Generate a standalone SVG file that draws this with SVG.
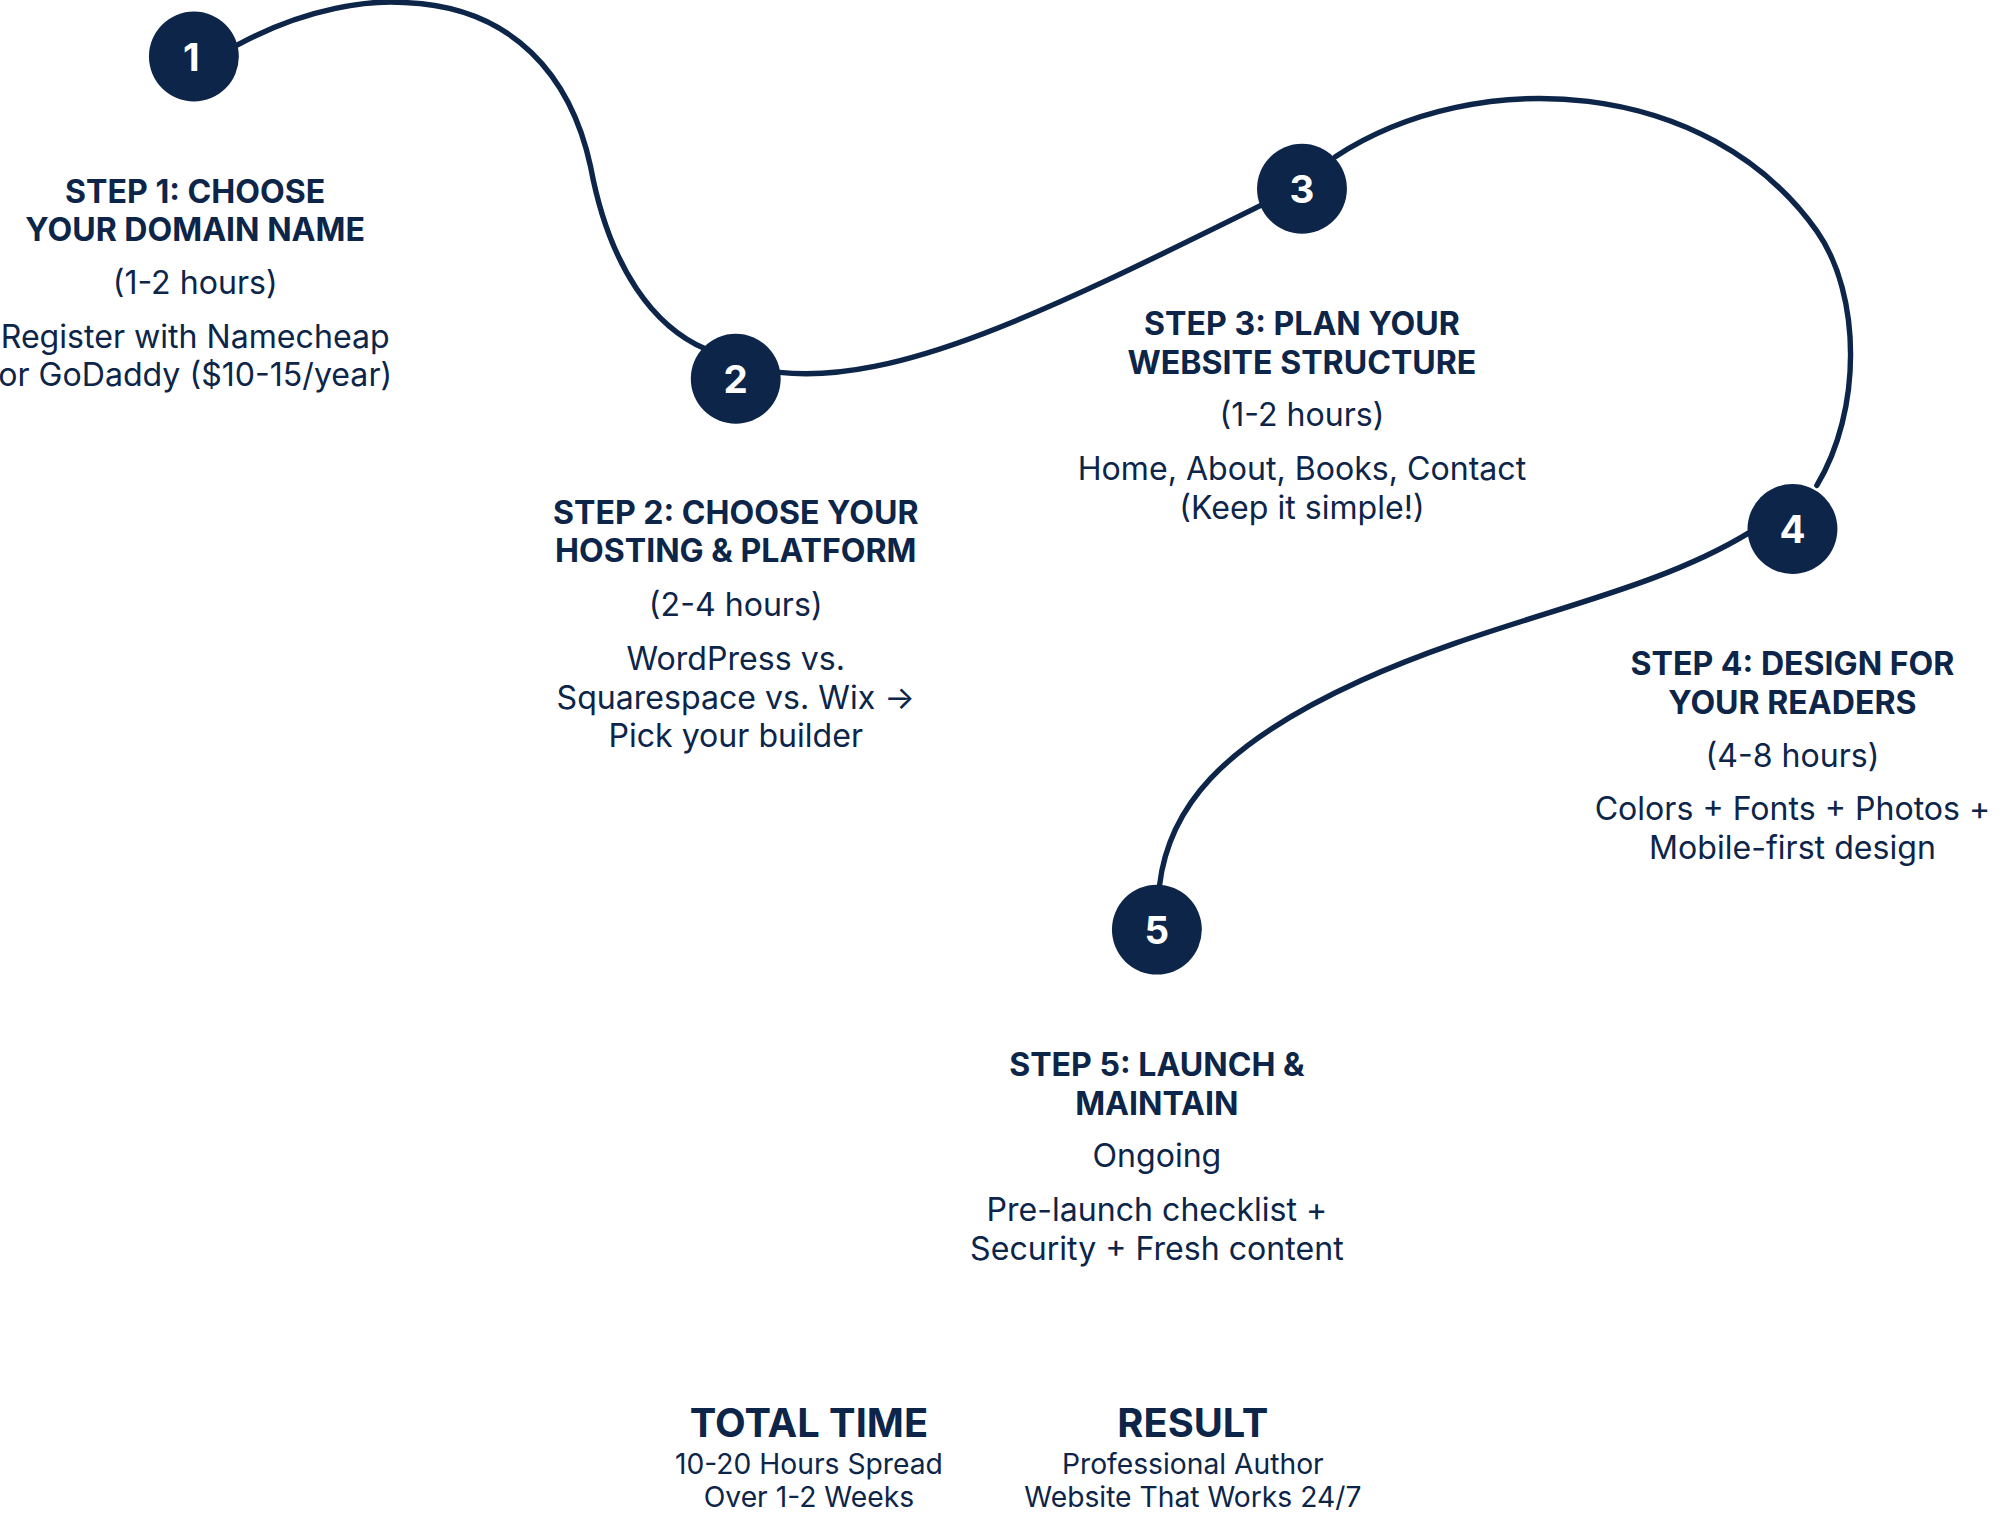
<svg xmlns="http://www.w3.org/2000/svg" width="2015" height="1518" viewBox="0 0 2015 1518">
<style>
text{font-family:Inter,"Noto Sans","Liberation Sans",sans-serif;fill:#0c2549;text-anchor:middle}
.h{font-weight:700;font-size:25px}
.b{font-size:25px}
.n{font-weight:700;font-size:30px;fill:#fff}
.c{fill:#0c2549}
.t{font-weight:700;font-size:31px}
.s{font-size:22px}
.p{fill:none;stroke:#0c2549;stroke-width:4.2;stroke-linecap:round}
</style>
<rect width="2015" height="1518" fill="#fff"/>
<g transform="scale(1.284)">
<g id="connectors">
<path class="p" d="M185,35 C240,5 290,0 315,2 C400,5 445,60 460,130 C475,210 510,255 550,272"/>
<path class="p" d="M607,290 C700,300 820,240 982,160"/>
<path class="p" d="M1040,122 C1150,50 1330,60 1415,180 C1450,230 1450,320 1415,378"/>
<path class="p" d="M1362,415 C1280,465 1170,480 1060,530 C950,580 910,630 903,690"/>
</g>
<g id="step1"><circle class="c" cx="151" cy="44" r="35"/><text class="n" x="149" y="55">1</text>
<text class="h" x="152" y="158">STEP 1: CHOOSE</text><text class="h" x="152" y="188">YOUR DOMAIN NAME</text>
<text class="b" x="152" y="229">(1-2 hours)</text><text class="b" x="152" y="271">Register with Namecheap</text><text class="b" x="152" y="301">or GoDaddy ($10-15/year)</text></g>
<g id="step2"><circle class="c" cx="573" cy="295" r="35"/><text class="n" x="573" y="306">2</text>
<text class="h" x="573" y="408">STEP 2: CHOOSE YOUR</text><text class="h" x="573" y="438">HOSTING &amp; PLATFORM</text>
<text class="b" x="573" y="480">(2-4 hours)</text><text class="b" x="573" y="522">WordPress vs.</text><text class="b" x="573" y="552">Squarespace vs. Wix →</text><text class="b" x="573" y="582">Pick your builder</text></g>
<g id="step3"><circle class="c" cx="1014" cy="147" r="35"/><text class="n" x="1014" y="158">3</text>
<text class="h" x="1014" y="261">STEP 3: PLAN YOUR</text><text class="h" x="1014" y="291">WEBSITE STRUCTURE</text>
<text class="b" x="1014" y="332">(1-2 hours)</text><text class="b" x="1014" y="374">Home, About, Books, Contact</text><text class="b" x="1014" y="404">(Keep it simple!)</text></g>
<g id="step4"><circle class="c" cx="1396" cy="412" r="35"/><text class="n" x="1396" y="423">4</text>
<text class="h" x="1396" y="526">STEP 4: DESIGN FOR</text><text class="h" x="1396" y="556">YOUR READERS</text>
<text class="b" x="1396" y="597">(4-8 hours)</text><text class="b" x="1396" y="639">Colors + Fonts + Photos +</text><text class="b" x="1396" y="669">Mobile-first design</text></g>
<g id="step5"><circle class="c" cx="901" cy="724" r="35"/><text class="n" x="901" y="735">5</text>
<text class="h" x="901" y="838">STEP 5: LAUNCH &amp;</text><text class="h" x="901" y="868">MAINTAIN</text>
<text class="b" x="901" y="909">Ongoing</text><text class="b" x="901" y="951">Pre-launch checklist +</text><text class="b" x="901" y="981">Security + Fresh content</text></g>
<g id="total"><text class="t" x="630" y="1119">TOTAL TIME</text><text class="s" x="630" y="1148">10-20 Hours Spread</text><text class="s" x="630" y="1174">Over 1-2 Weeks</text></g>
<g id="result"><text class="t" x="929" y="1119">RESULT</text><text class="s" x="929" y="1148">Professional Author</text><text class="s" x="929" y="1174">Website That Works 24/7</text></g>
</g>
</svg>
